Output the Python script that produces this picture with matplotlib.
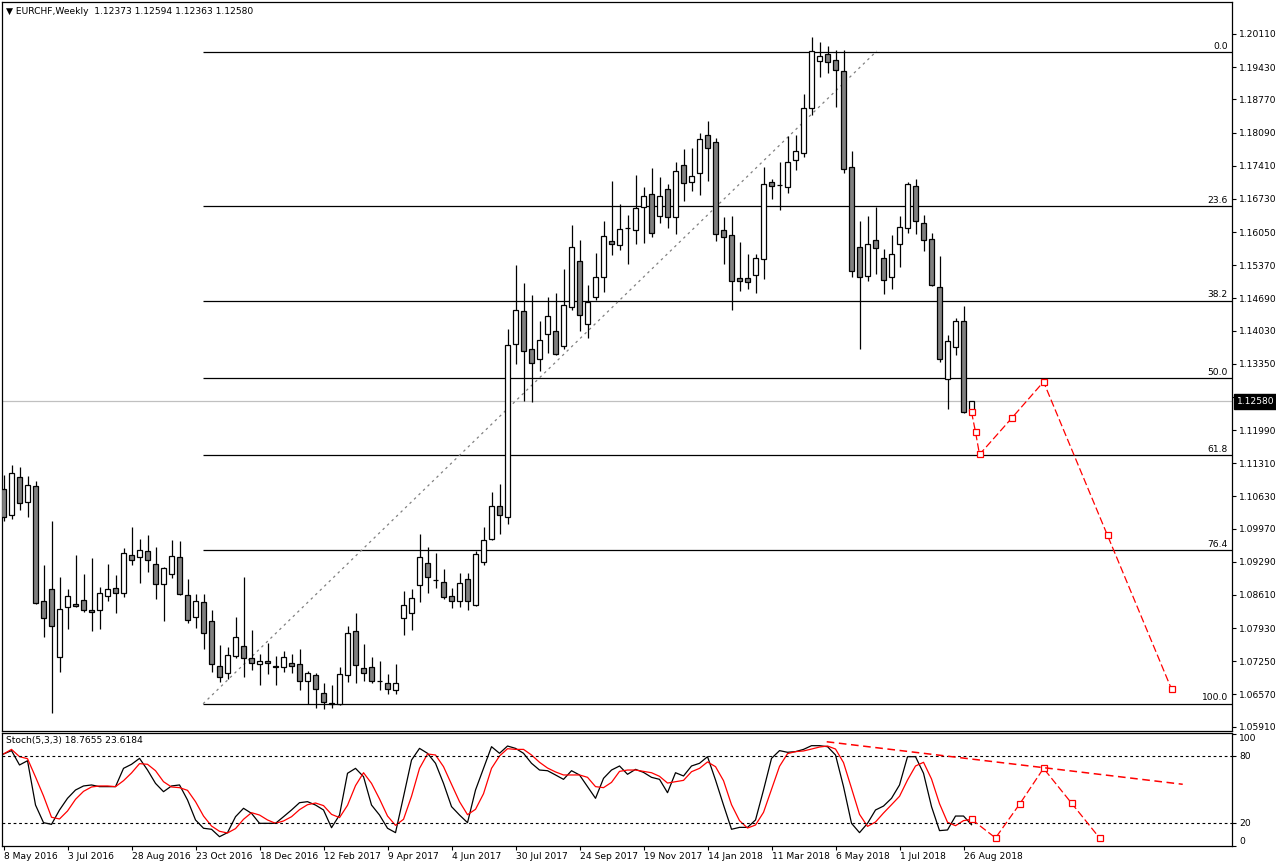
import matplotlib
matplotlib.use("Agg")
import matplotlib.pyplot as plt
import numpy as np

# weekly EURCHF candles, 8 May 2016 .. 2 Sep 2018
opens = [1.1078, 1.1024, 1.1102, 1.1051, 1.1084, 1.0848, 1.0873, 1.0733, 1.0836, 1.0843,
         1.0850, 1.0830, 1.0830, 1.0858, 1.0875, 1.0866, 1.0942, 1.0938, 1.0951, 1.0924,
         1.0883, 1.0903, 1.0938, 1.0860, 1.0816, 1.0846, 1.0807, 1.0715, 1.0702, 1.0735,
         1.0756, 1.0731, 1.0719, 1.0725, 1.0715, 1.0713, 1.0721, 1.0719, 1.0684, 1.0696,
         1.0661, 1.0640, 1.0638, 1.0696, 1.0787, 1.0711, 1.0713, 1.0685, 1.0680, 1.0666,
         1.0813, 1.0823, 1.0881, 1.0927, 1.0891, 1.0887, 1.0858, 1.0848, 1.0893, 1.0840,
         1.0928, 1.0975, 1.1043, 1.1020, 1.1375, 1.1443, 1.1365, 1.1344, 1.1395, 1.1402,
         1.1371, 1.1451, 1.1545, 1.1416, 1.1471, 1.1512, 1.1586, 1.1578, 1.1614, 1.1609,
         1.1656, 1.1684, 1.1637, 1.1693, 1.1635, 1.1742, 1.1707, 1.1726, 1.1803, 1.1789,
         1.1609, 1.1598, 1.1510, 1.1510, 1.1516, 1.1549, 1.1707, 1.1701, 1.1697, 1.1752,
         1.1768, 1.1859, 1.1955, 1.1969, 1.1957, 1.1935, 1.1738, 1.1574, 1.1514, 1.1588,
         1.1551, 1.1512, 1.1580, 1.1613, 1.1699, 1.1623, 1.1590, 1.1492, 1.1303, 1.1369,
         1.1422, 1.12373]
highs = [1.1107, 1.1127, 1.1123, 1.1105, 1.1095, 1.0922, 1.1013, 1.0898, 1.0873, 1.0943,
         1.0904, 1.0937, 1.0877, 1.0925, 1.0902, 1.0957, 1.1000, 1.0976, 1.0984, 1.0959,
         1.0918, 1.0974, 1.0972, 1.0894, 1.0863, 1.0863, 1.0830, 1.0758, 1.0754, 1.0816,
         1.0898, 1.0789, 1.0739, 1.0762, 1.0736, 1.0746, 1.0739, 1.0750, 1.0706, 1.0700,
         1.0680, 1.0676, 1.0713, 1.0797, 1.0824, 1.0760, 1.0734, 1.0726, 1.0698, 1.0719,
         1.0869, 1.0873, 1.0986, 1.0959, 1.0947, 1.0914, 1.0875, 1.0907, 1.0907, 1.0951,
         1.1000, 1.1072, 1.1088, 1.1406, 1.1537, 1.1501, 1.1476, 1.1423, 1.1472, 1.1480,
         1.1529, 1.1619, 1.1588, 1.1496, 1.1563, 1.1628, 1.1710, 1.1662, 1.1640, 1.1722,
         1.1697, 1.1736, 1.1718, 1.1703, 1.1749, 1.1775, 1.1777, 1.1809, 1.1832, 1.1797,
         1.1635, 1.1637, 1.1584, 1.1559, 1.1561, 1.1739, 1.1713, 1.1748, 1.1801, 1.1803,
         1.1888, 1.2005, 1.1994, 1.1986, 1.1978, 1.1978, 1.1771, 1.1627, 1.1637, 1.1657,
         1.1570, 1.1598, 1.1637, 1.1707, 1.1713, 1.1639, 1.1603, 1.1555, 1.1393, 1.1428,
         1.1453, 1.12594]
lows = [1.1013, 1.1017, 1.1035, 1.1021, 1.0843, 1.0775, 1.0620, 1.0704, 1.0792, 1.0837,
        1.0826, 1.0788, 1.0792, 1.0849, 1.0825, 1.0857, 1.0923, 1.0886, 1.0908, 1.0853,
        1.0808, 1.0896, 1.0861, 1.0804, 1.0794, 1.0751, 1.0704, 1.0683, 1.0689, 1.0732,
        1.0693, 1.0708, 1.0677, 1.0698, 1.0677, 1.0704, 1.0700, 1.0667, 1.0638, 1.0630,
        1.0628, 1.0630, 1.0635, 1.0683, 1.0681, 1.0685, 1.0681, 1.0667, 1.0658, 1.0657,
        1.0778, 1.0790, 1.0847, 1.0864, 1.0876, 1.0853, 1.0835, 1.0837, 1.0830, 1.0839,
        1.0922, 1.0974, 1.0985, 1.1006, 1.1334, 1.1259, 1.1257, 1.1320, 1.1358, 1.1353,
        1.1365, 1.1445, 1.1402, 1.1387, 1.1465, 1.1483, 1.1557, 1.1569, 1.1540, 1.1581,
        1.1583, 1.1595, 1.1623, 1.1614, 1.1600, 1.1669, 1.1689, 1.1680, 1.1709, 1.1586,
        1.1539, 1.1445, 1.1485, 1.1489, 1.1481, 1.1508, 1.1672, 1.1650, 1.1685, 1.1732,
        1.1758, 1.1845, 1.1922, 1.1932, 1.1862, 1.1727, 1.1512, 1.1366, 1.1504, 1.1518,
        1.1477, 1.1488, 1.1533, 1.1604, 1.1600, 1.1566, 1.1495, 1.1338, 1.1242, 1.1352,
        1.1235, 1.12363]
closes = [1.1021, 1.1110, 1.1049, 1.1086, 1.0844, 1.0813, 1.0797, 1.0832, 1.0858, 1.0839,
          1.0830, 1.0827, 1.0866, 1.0873, 1.0866, 1.0948, 1.0932, 1.0953, 1.0932, 1.0884,
          1.0916, 1.0940, 1.0862, 1.0809, 1.0848, 1.0782, 1.0719, 1.0692, 1.0737, 1.0774,
          1.0731, 1.0721, 1.0725, 1.0721, 1.0713, 1.0733, 1.0715, 1.0684, 1.0700, 1.0668,
          1.0641, 1.0638, 1.0698, 1.0784, 1.0717, 1.0702, 1.0684, 1.0684, 1.0668, 1.0680,
          1.0840, 1.0854, 1.0938, 1.0898, 1.0891, 1.0856, 1.0848, 1.0885, 1.0848, 1.0944,
          1.0973, 1.1043, 1.1024, 1.1373, 1.1445, 1.1361, 1.1336, 1.1383, 1.1432, 1.1354,
          1.1455, 1.1574, 1.1434, 1.1461, 1.1512, 1.1596, 1.1580, 1.1611, 1.1614, 1.1654,
          1.1678, 1.1603, 1.1678, 1.1635, 1.1730, 1.1705, 1.1719, 1.1795, 1.1777, 1.1600,
          1.1594, 1.1504, 1.1504, 1.1502, 1.1551, 1.1703, 1.1699, 1.1701, 1.1748, 1.1771,
          1.1859, 1.1976, 1.1965, 1.1953, 1.1937, 1.1734, 1.1525, 1.1512, 1.1580, 1.1572,
          1.1506, 1.1561, 1.1615, 1.1703, 1.1627, 1.1588, 1.1496, 1.1344, 1.1381, 1.1422,
          1.1237, 1.12580]

# Stoch(5,3,3): main (black) and signal (red)
stoch_k = [81.8, 84.8, 72.0, 75.8, 36.3, 20.6, 19.1, 31.9, 42.3, 49.7,
           53.3, 54.2, 52.7, 52.7, 52.7, 69.0, 72.6, 77.9, 67.5, 55.6,
           48.2, 53.3, 54.2, 40.8, 23.0, 15.6, 14.7, 8.1, 11.7, 25.9,
           33.4, 28.9, 20.0, 20.0, 20.0, 25.9, 31.9, 38.4, 39.3, 36.3,
           31.9, 16.1, 27.4, 64.6, 69.0, 61.6, 36.3, 27.4, 15.6, 11.7,
           43.8, 76.4, 86.8, 82.4, 73.5, 55.6, 34.9, 27.4, 20.6, 49.7,
           69.0, 88.3, 82.4, 88.9, 86.8, 82.4, 73.5, 67.5, 66.9, 63.1,
           59.2, 66.9, 63.1, 52.7, 42.3, 60.1, 67.5, 71.1, 63.7, 68.1,
           65.4, 61.0, 59.2, 47.3, 65.1, 62.2, 71.1, 73.5, 79.4, 58.6,
           36.3, 14.7, 16.4, 16.4, 23.0, 49.7, 77.9, 84.8, 83.3, 83.9,
           85.9, 89.2, 89.2, 88.3, 80.9, 52.7, 20.0, 11.7, 20.0, 31.9,
           35.4, 42.3, 54.2, 79.4, 79.4, 64.6, 34.9, 13.5, 14.1, 26.5,
           26.5, 18.77]
stoch_d = [81.8, 85.9, 79.4, 77.6, 61.3, 44.4, 25.4, 23.9, 31.0, 41.4,
           48.5, 52.4, 53.3, 53.3, 52.7, 58.0, 64.9, 73.2, 72.6, 66.9,
           57.1, 52.4, 51.8, 49.4, 39.3, 26.5, 17.6, 12.9, 11.4, 15.3,
           23.6, 29.5, 27.4, 23.0, 20.0, 22.1, 25.9, 32.2, 36.6, 38.1,
           35.8, 28.0, 25.1, 36.1, 53.6, 65.1, 55.6, 41.7, 26.5, 18.2,
           23.6, 44.1, 69.0, 81.8, 80.9, 70.5, 54.8, 39.3, 27.7, 32.5,
           46.4, 69.0, 80.0, 86.5, 85.9, 85.9, 80.9, 74.4, 69.3, 65.8,
           63.1, 63.1, 63.1, 61.0, 52.7, 51.8, 56.5, 66.3, 67.5, 67.5,
           66.3, 65.1, 61.9, 55.9, 57.1, 58.3, 66.0, 69.0, 74.7, 70.5,
           58.0, 36.6, 22.4, 15.8, 18.5, 29.8, 50.3, 70.8, 82.1, 83.9,
           84.5, 86.2, 88.0, 88.9, 86.2, 74.1, 51.2, 28.0, 17.3, 21.2,
           29.2, 36.6, 44.1, 58.6, 71.1, 74.4, 59.5, 37.5, 20.9, 17.9,
           22.4, 23.62]

date_pos = [0, 8, 16, 24, 32, 40, 48, 56, 64, 72, 80, 88, 96, 104, 112, 120]
date_labels = ["8 May 2016", "3 Jul 2016", "28 Aug 2016", "23 Oct 2016", "18 Dec 2016",
               "12 Feb 2017", "9 Apr 2017", "4 Jun 2017", "30 Jul 2017", "24 Sep 2017",
               "19 Nov 2017", "14 Jan 2018", "11 Mar 2018", "6 May 2018", "1 Jul 2018",
               "26 Aug 2018"]
price_ticks = [1.20110, 1.19430, 1.18770, 1.18090, 1.17410, 1.16730, 1.16050, 1.15370,
               1.14690, 1.14030, 1.13350, 1.12670, 1.11990, 1.11310, 1.10630, 1.09970,
               1.09290, 1.08610, 1.07930, 1.07250, 1.06570, 1.05910]

fib_levels = [1.1974, 1.1658, 1.1464, 1.1306, 1.1148, 1.0953, 1.0638]
fib_labels = ["0.0", "23.6", "38.2", "50.0", "61.8", "76.4", "100.0"]
fib_start = 24.95
trend_x = [24.95, 109.15]
trend_y = [1.0638, 1.1976]
last_price = 1.12580

fc_x = [121, 121.5, 122, 126, 130, 138, 146]
fc_y = [1.1236, 1.1195, 1.1149, 1.1223, 1.1298, 1.0983, 1.0668]
st_fc_x = [121, 124, 127, 130, 133.5, 137]
st_fc_y = [23.6, 7.0, 37.0, 69.0, 38.0, 7.0]
st_trend_x = [102.9, 147.4]
st_trend_y = [92.7, 54.8]

W, H = 1276, 867
fig = plt.figure(figsize=(W / 100, H / 100), dpi=100)
ax = fig.add_axes([2 / W, 1 - 731 / H, 1230 / W, 729 / H])
ax2 = fig.add_axes([2 / W, 1 - 846 / H, 1230 / W, 113 / H])
xl = (-0.19, 153.56)
fs = 6.6

o = np.array(opens); h = np.array(highs); l = np.array(lows); c = np.array(closes)
x = np.arange(len(o))
up = c >= o
ax.vlines(x, l, h, color="black", lw=0.9, zorder=3)
ax.bar(x, np.abs(c - o), bottom=np.minimum(o, c), width=0.58,
       color=np.where(up, "white", "#808080"), edgecolor="black", linewidth=0.9, zorder=4)

ax.hlines(fib_levels, fib_start, xl[1], color="black", lw=0.9, zorder=2)
for lv, lb in zip(fib_levels, fib_labels):
    ax.annotate(lb, (1.0, lv), xycoords=("axes fraction", "data"), xytext=(-3, 1),
                textcoords="offset points", ha="right", va="bottom", fontsize=fs)
ax.axhline(last_price, color="#c0c0c0", lw=0.9, zorder=1)
ax.plot(trend_x, trend_y, color="#808080", ls=(0, (2, 3)), lw=0.9, zorder=2)
ax.plot(fc_x, fc_y, color="red", ls=(0, (6, 2.5)), lw=0.9, marker="s", ms=4,
        mfc="white", mec="red", mew=0.9, zorder=5)

ax.set_xlim(*xl)
ax.set_ylim(1.05821, 1.20766)
ax.set_xticks([])
ax.yaxis.tick_right()
ax.set_yticks(price_ticks)
# the 1.12670 label sits under the current-price box
ax.set_yticklabels(["" if abs(p - 1.1267) < 1e-6 else f"{p:.5f}" for p in price_ticks])
ax.tick_params(axis="y", direction="out", length=3, width=0.8, labelsize=fs, pad=2)
ax.annotate(f"{last_price:.5f}", (1.0, last_price), xycoords=("axes fraction", "data"),
            xytext=(3.5, 0), textcoords="offset points", ha="left", va="center",
            fontsize=fs, color="white", annotation_clip=False, zorder=10,
            bbox=dict(boxstyle="square,pad=0.3", fc="black", ec="black"))
ax.text(4 / 1230, 1 - 9 / 729, "\u25bc EURCHF,Weekly  1.12373 1.12594 1.12363 1.12580",
        transform=ax.transAxes, ha="left", va="center", fontsize=fs)

# stochastic panel
ax2.plot(x, stoch_k, color="black", lw=0.9)
ax2.plot(x, stoch_d, color="red", lw=0.9)
for lv in (20, 80):
    ax2.axhline(lv, color="black", lw=0.8, ls=(0, (2.5, 2.5)))
ax2.plot(st_fc_x, st_fc_y, color="red", ls=(0, (6, 2.5)), lw=0.9, marker="s", ms=4,
         mfc="white", mec="red", mew=0.9)
ax2.plot(st_trend_x, st_trend_y, color="red", ls=(0, (5, 3)), lw=1.1)
ax2.set_xlim(*xl)
ax2.set_ylim(-0.2, 100.5)
ax2.yaxis.tick_right()
ax2.set_yticks([0, 20, 80, 100])
ax2.set_yticklabels(["0", "20", "80", "100"])
ax2.tick_params(axis="y", direction="out", length=3, width=0.8, labelsize=fs, pad=2)
for t, va in zip(ax2.get_yticklabels(), ["bottom", "center", "center", "top"]):
    t.set_va(va)
ax2.set_xticks(date_pos)
ax2.set_xticklabels(date_labels, ha="left")
ax2.tick_params(axis="x", direction="out", length=3, width=0.8, labelsize=fs, pad=1)
ax2.text(4 / 1230, 1 - 8 / 113, "Stoch(5,3,3) 18.7655 23.6184", transform=ax2.transAxes,
         ha="left", va="center", fontsize=fs)

for a in (ax, ax2):
    for s in a.spines.values():
        s.set_linewidth(0.9)

fig.savefig("out.png", dpi=100)
